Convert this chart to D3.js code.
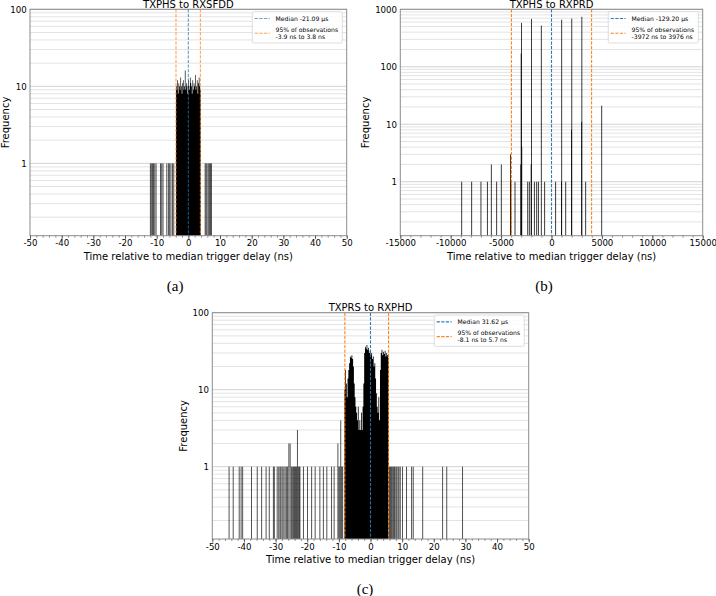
<!DOCTYPE html>
<html>
<head>
<meta charset="utf-8">
<script src="https://cdn.jsdelivr.net/npm/d3@7"></script>
<style>
  body { margin: 0; background: #fff; }
  svg { display: block; }
  text { font-family: "DejaVu Sans", sans-serif; fill: #000; }
  .cap { font-family: "Liberation Serif", serif; font-size: 15px; }
</style>
</head>
<body>
<svg id="chart" width="716" height="596"></svg>
<script>
// ---- (a) TXPHS to RXSFDD : dense bins start at -3.9 ns, 0.2 ns wide
const aDenseStart = -3.9, aStep = 0.2;
const aDense = [10, 9, 12, 8, 11, 10, 9, 13, 10, 8, 11, 12, 9, 10, 16, 9, 11, 10, 8, 12,
                10, 9, 13, 11, 10, 8, 12, 9, 11, 10, 14, 9, 10, 12, 8, 11, 13, 10, 9];
const aSingles = [-12.0, -11.7, -11.3, -11.0, -10.6, -10.2, -8.8, -8.4, -8.0, -6.8, -6.3,
                  -5.9, -5.5, -5.0, -4.6, 5.3, 5.6, 5.9, 6.3, 6.7, 7.0, 7.3];
const aLines = {median: 0, lo: -3.9, hi: 3.8};
const aLegend = ["Median -21.09 μs", "95% of observations", "-3.9 ns to 3.8 ns"];

// ---- (b) TXPHS to RXPRD : [position ns, count]
const bBins = [[-8910, 1], [-7920, 1], [-7000, 1], [-6360, 1], [-5970, 2], [-5440, 1],
               [-4980, 2], [-4070, 3], [-4030, 1], [-3620, 1], [-3050, 2], [-3010, 170],
               [-2980, 580], [-2950, 4], [-2360, 1], [-2200, 1], [-2020, 2], [-1980, 680],
               [-1700, 1], [-1470, 1], [-1300, 1], [-1010, 520], [-680, 1], [410, 1],
               [990, 1], [1010, 660], [1410, 1], [1990, 8], [2010, 690], [2990, 11],
               [3010, 740], [3390, 1], [4980, 21]];
const bLines = {median: 0, lo: -3972, hi: 3976};
const bLegend = ["Median -129.20 μs", "95% of observations", "-3972 ns to 3976 ns"];

// ---- (c) TXPRS to RXPHD : dense bins start at -8.25 ns, 0.25 ns wide
const cDenseStart = -8.25, cStep = 0.25;
const cDense = [10, 18, 12, 8, 14, 18, 22, 27, 26, 28, 25, 20, 12, 8, 6, 5, 4, 6, 3, 4,
                3, 5, 3, 6, 12, 30, 36, 34, 38, 33, 35, 30, 32, 28, 30, 25, 27, 20, 22, 14,
                9, 6, 5, 8, 4, 18, 30, 33, 28, 31, 29, 32, 27, 30, 28, 26];
const cSingles = [[-44.7, 1], [-43.4, 1], [-41.5, 1], [-40.9, 1], [-40.4, 1], [-37.6, 1],
                  [-35.8, 1], [-34.4, 1], [-33.0, 1], [-32.0, 1], [-30.7, 1], [-30.4, 1],
                  [-29.5, 1], [-29.0, 1], [-28.6, 1], [-28.3, 1], [-27.9, 1], [-27.4, 1],
                  [-27.0, 1], [-26.6, 1], [-26.2, 1], [-25.8, 2], [-25.4, 2], [-25.0, 1],
                  [-24.6, 1], [-24.3, 1], [-24.0, 1], [-23.7, 1], [-23.4, 1], [-23.1, 3],
                  [-22.8, 1], [-22.5, 1], [-22.3, 1], [-21.2, 1], [-19.9, 1], [-18.6, 1],
                  [-17.5, 1], [-16.0, 1], [-14.9, 1], [-13.8, 1], [-12.3, 1], [-11.5, 1],
                  [-10.3, 2], [-10.0, 1], [-9.7, 1], [-9.4, 4], [-9.1, 1], [-8.8, 1],
                  [6.0, 1], [6.3, 1], [6.6, 1], [6.9, 1], [7.3, 1], [7.6, 1], [8.0, 1],
                  [8.3, 1], [8.7, 1], [9.0, 1], [9.4, 1], [10.1, 1], [11.4, 1], [13.0, 1],
                  [13.5, 1], [16.5, 1], [22.8, 1], [24.1, 1], [29.1, 1]];
const cLines = {median: 0, lo: -8.1, hi: 5.7};
const cLegend = ["Median 31.62 μs", "95% of observations", "-8.1 ns to 5.7 ns"];

const nsTicks = [-50, -40, -30, -20, -10, 0, 10, 20, 30, 40, 50];
const wideTicks = [-15000, -10000, -5000, 0, 5000, 10000, 15000];

const svg = d3.select("#chart");

function drawPanel(p) {
  const x = d3.scaleLinear().domain(p.xDomain).range([p.left, p.right]);
  const y = d3.scaleLog().domain(p.yDomain).range([p.bottom, p.top]);
  const g = svg.append("g");

  // horizontal grid on every log tick
  g.append("g").selectAll("line")
    .data(y.ticks().filter(v => v > p.yDomain[0]))
    .enter().append("line")
      .attr("x1", p.left).attr("x2", p.right)
      .attr("y1", d => y(d)).attr("y2", d => y(d))
      .attr("stroke", d => Math.abs(Math.log10(d) % 1) < 1e-9 ? "#d2d2d2" : "#e3e3e3")
      .attr("stroke-width", 1);

  // isolated bins
  const bars = g.append("g");
  bars.selectAll("rect")
    .data(p.singles)
    .enter().append("rect")
      .attr("x", d => x(d[0]) - 0.45)
      .attr("width", p.singleW)
      .attr("y", d => y(d[1]))
      .attr("height", d => p.bottom - y(d[1]))
      .attr("fill", "#000")
      .attr("fill-opacity", p.singleOpacity);

  // contiguous bins as one stepped shape (no seams between sub-pixel bars)
  if (p.dense) {
    const pts = p.dense.map((c, i) => [p.denseStart + i * p.step, c]);
    pts.push([p.denseStart + p.dense.length * p.step, p.dense[p.dense.length - 1]]);
    const area = d3.area()
      .x(d => x(d[0]))
      .y0(p.bottom)
      .y1(d => y(d[1]))
      .curve(d3.curveStepAfter);
    bars.append("path").attr("d", area(pts)).attr("fill", "#000");
  }

  // frame
  g.append("rect")
    .attr("x", p.left).attr("y", p.top)
    .attr("width", p.right - p.left).attr("height", p.bottom - p.top)
    .attr("fill", "none").attr("stroke", "#8c8c8c").attr("stroke-width", 1);

  // x axis: minor then major ticks
  const xa = g.append("g").attr("transform", "translate(0," + p.bottom + ")");
  xa.call(d3.axisBottom(x).tickValues(x.ticks(p.minorCount)).tickSize(2).tickFormat(""))
    .call(a => a.select(".domain").remove())
    .selectAll("line").attr("stroke", "#555").attr("stroke-width", 0.6);
  const xb = g.append("g").attr("transform", "translate(0," + p.bottom + ")");
  xb.call(d3.axisBottom(x).tickValues(p.xTicks).tickSize(3.5).tickPadding(1).tickFormat(d3.format("d")))
    .call(a => a.select(".domain").remove());
  xb.selectAll("line").attr("stroke", "#444").attr("stroke-width", 0.8);
  xb.selectAll("text").attr("font-size", "8.6px")
    .attr("font-family", "DejaVu Sans").attr("fill", "#000")
    .text(d => String(d));

  // y axis labels (major decades only)
  const ya = g.append("g").attr("transform", "translate(" + p.left + ",0)");
  ya.call(d3.axisLeft(y).tickValues(p.yTicks).tickSize(0).tickPadding(3.3).tickFormat(d3.format("d")))
    .call(a => a.select(".domain").remove());
  ya.selectAll("text").attr("font-size", "8.6px").attr("font-family", "DejaVu Sans").attr("fill", "#000");

  // reference lines
  const refs = [[p.lines.lo, "#ff7f0e"], [p.lines.hi, "#ff7f0e"], [p.lines.median, "#1f77b4"]];
  g.append("g").selectAll("line")
    .data(refs)
    .enter().append("line")
      .attr("x1", d => x(d[0])).attr("x2", d => x(d[0]))
      .attr("y1", p.top).attr("y2", p.bottom)
      .attr("stroke", d => d[1]).attr("stroke-width", 1.1)
      .attr("stroke-opacity", p.lineOpacity)
      .attr("stroke-dasharray", "3.2,1.4");

  // title, labels, caption
  const cx = (p.left + p.right) / 2;
  g.append("text").attr("x", cx).attr("y", p.top - 1.8)
    .attr("text-anchor", "middle").attr("font-size", "10px").text(p.title);
  g.append("text").attr("x", cx).attr("y", p.bottom + 23.8)
    .attr("text-anchor", "middle").attr("font-size", "10px")
    .text("Time relative to median trigger delay (ns)");
  g.append("text")
    .attr("transform", "translate(" + (p.left - p.ylabOff) + "," + ((p.top + p.bottom) / 2) + ") rotate(-90)")
    .attr("text-anchor", "middle").attr("font-size", "10px").text("Frequency");
  g.append("text").attr("class", "cap").attr("x", p.capX).attr("y", p.bottom + 55)
    .attr("text-anchor", "middle").text(p.caption);

  // legend
  const lg = g.append("g");
  const box = lg.append("rect");
  const fs = 6.1;
  const t1 = lg.append("text").attr("font-size", fs + "px").attr("y", p.top + 11.2).text(p.legend[0]);
  const t2 = lg.append("text").attr("font-size", fs + "px").attr("y", p.top + 22.2).text(p.legend[1]);
  const t3 = lg.append("text").attr("font-size", fs + "px").attr("y", p.top + 29.6).text(p.legend[2]);
  const tw = d3.max([t1, t2, t3], t => t.node().getComputedTextLength());
  const bw = tw + 27.5;
  const bx = p.right - 4.4 - bw;
  box.attr("x", bx).attr("y", p.top + 2.3).attr("width", bw).attr("height", 31.4)
    .attr("rx", 1.5).attr("fill", "#fff").attr("fill-opacity", 0.85)
    .attr("stroke", "#d6d6d6").attr("stroke-width", 0.8);
  [t1, t2, t3].forEach(t => t.attr("x", bx + 23.3));
  const handles = [[p.top + 9.2, "#1f77b4"], [p.top + 23.9, "#ff7f0e"]];
  lg.selectAll("line").data(handles).enter().append("line")
    .attr("x1", bx + 2.4).attr("x2", bx + 17.4)
    .attr("y1", d => d[0]).attr("y2", d => d[0])
    .attr("stroke", d => d[1]).attr("stroke-width", 1.1)
    .attr("stroke-opacity", p.lineOpacity)
    .attr("stroke-dasharray", "3.2,1.4");
}

drawPanel({
  left: 30, right: 346.7, top: 9.3, bottom: 235.7,
  xDomain: [-50, 50], yDomain: [0.115, 100], xTicks: nsTicks, yTicks: [1, 10, 100], minorCount: 50,
  dense: aDense, denseStart: aDenseStart, step: aStep,
  singles: aSingles.map(v => [v, 1]), singleW: 0.9, singleOpacity: 0.75,
  lines: aLines, legend: aLegend, lineOpacity: 0.7,
  title: "TXPHS to RXSFDD", ylabOff: 21.5, capX: 175.2, caption: "(a)"
});
drawPanel({
  left: 400.3, right: 702.7, top: 9.3, bottom: 235.7,
  xDomain: [-15000, 15000], yDomain: [0.115, 1000], xTicks: wideTicks, yTicks: [1, 10, 100, 1000], minorCount: 30,
  dense: null, singles: bBins, singleW: 0.9, singleOpacity: 0.85,
  lines: bLines, legend: bLegend, lineOpacity: 0.95,
  title: "TXPHS to RXPRD", ylabOff: 31.8, capX: 544, caption: "(b)"
});
drawPanel({
  left: 212.3, right: 528.7, top: 312.7, bottom: 539,
  xDomain: [-50, 50], yDomain: [0.115, 100], xTicks: nsTicks, yTicks: [1, 10, 100], minorCount: 50,
  dense: cDense, denseStart: cDenseStart, step: cStep,
  singles: cSingles, singleW: 0.9, singleOpacity: 0.75,
  lines: cLines, legend: cLegend, lineOpacity: 0.95,
  title: "TXPRS to RXPHD", ylabOff: 25, capX: 365, caption: "(c)"
});
</script>
</body>
</html>
